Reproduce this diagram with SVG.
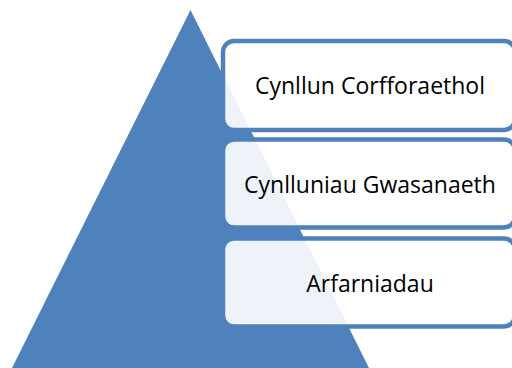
<svg xmlns="http://www.w3.org/2000/svg" width="512" height="368" viewBox="0 0 512 368">
  <style>
    .box { fill: #ffffff; fill-opacity: 0.9; stroke: #4F81BD; stroke-width: 4.5; }
    .lbl { font-family: "Open Sans", "Liberation Sans", sans-serif; font-size: 23px; fill: #000000; text-anchor: middle; }
  </style>
  <rect width="512" height="368" fill="#ffffff"/>
  <g id="pyramid">
    <polygon points="190.5,10 12,368 369,368" fill="#4F81BD"/>
  </g>
  <g id="node1">
    <rect class="box" x="223" y="41" width="292" height="89" rx="11"/>
    <text class="lbl" x="370" y="94">Cynllun Corfforaethol</text>
  </g>
  <g id="node2">
    <rect class="box" x="223" y="139.5" width="292" height="88" rx="11"/>
    <text class="lbl" x="370" y="193">Cynlluniau Gwasanaeth</text>
  </g>
  <g id="node3">
    <rect class="box" x="223" y="238.5" width="292" height="88" rx="11"/>
    <text class="lbl" x="370" y="292">Arfarniadau</text>
  </g>
  <g id="connectors"></g>
</svg>
